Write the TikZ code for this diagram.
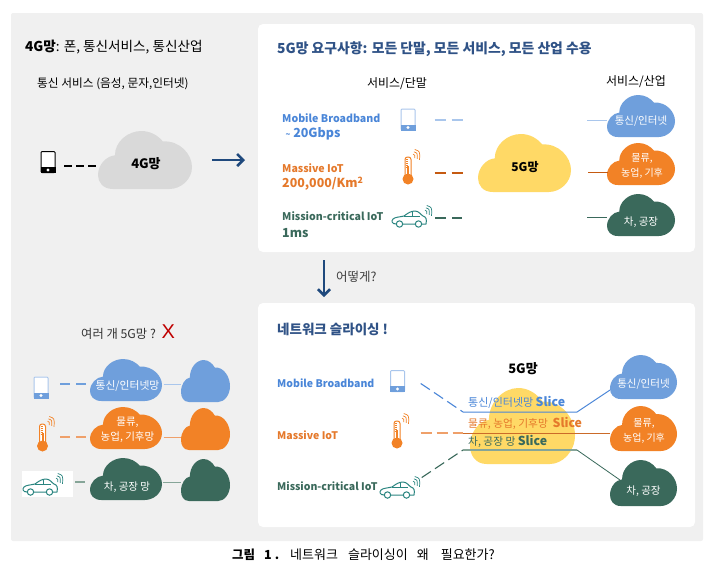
\documentclass[tikz,border=0pt]{standalone}
\usepackage{fontspec}
\setmainfont{Noto Sans CJK KR}
\newfontfamily\xfont{Liberation Sans}
\usepackage{xcolor}
\usetikzlibrary{arrows.meta}
\definecolor{pageGrey}{HTML}{F0F0F0}
\definecolor{navy}{HTML}{2F5286}
\definecolor{arrowNavy}{HTML}{1F497D}
\definecolor{clBlue}{HTML}{6F9FDC}
\definecolor{lineBlue}{HTML}{A9C6EC}
\definecolor{txtBlue}{HTML}{4A86D8}
\definecolor{clOrange}{HTML}{F28226}
\definecolor{lineOrange}{HTML}{C55A11}
\definecolor{softOrange}{HTML}{EFA06A}
\definecolor{txtOrange}{HTML}{E5792B}
\definecolor{clGreen}{HTML}{3A695B}
\definecolor{softGreen}{HTML}{86A598}
\definecolor{clYellow}{HTML}{FFD966}
\definecolor{clGrey}{HTML}{D9D9D9}
\definecolor{carTeal}{HTML}{2A8580}
\newcommand{\fsize}[1]{\fontsize{#1}{#1}\selectfont}
\tikzset{
  cloudpic/.pic={
    \fill[pic actions] (0.16,1) .. controls (0.05,1) and (0,0.88) .. (0,0.76)
      .. controls (0,0.58) and (0.09,0.43) .. (0.18,0.42)
      .. controls (0.18,0.18) and (0.32,0) .. (0.46,0)
      .. controls (0.56,0) and (0.64,0.08) .. (0.69,0.18)
      .. controls (0.87,0.16) and (1,0.4) .. (1,0.62)
      .. controls (1,0.84) and (0.88,1) .. (0.76,1) -- cycle;
  },
  pics/phonepic/.style n args={2}{code={
    \fill[white,rounded corners=1pt] (-7,-11) rectangle (7,11);
    \draw[#1,line width=1pt,rounded corners=1pt] (-7,-10.5) rectangle (7,10.5);
    \fill[#2] (-7.5,5) rectangle (7.5,11);
    \fill[white] (0,8) circle (1.6);
  }},
  pics/thermopic/.style={code={
    \draw[#1,line width=1pt,fill=white,rounded corners=2.5pt] (-4,8) -- (-4,-11) -- (2,-11) -- (2,8);
    \fill[#1] (-1,11) circle (5.5);
    \fill[#1] (-2,8) rectangle (0,-2);
    \foreach \t in {-9,-7,-5,-3,-1} \draw[#1,line width=.6pt] (-3,\t) -- (-1,\t);
    \foreach \r in {3,5.5,8} \draw[#1,line width=.7pt] (3+0.35*\r,-11-0.94*\r) .. controls (3+\r,-11-0.7*\r) .. (3+0.94*\r,-11+0.35*\r);
  }},
  carpic/.pic={
    \draw[carTeal,line width=1pt,line join=round] (-17,8) .. controls (-21,8) and (-22,5) .. (-20,3)
      .. controls (-18,1) and (-13,1) .. (-9,0)
      .. controls (-5,-3) and (-2,-5) .. (2,-5)
      .. controls (6,-5) and (8,-1) .. (10,0)
      .. controls (13,1) and (14,3) .. (13,8) -- (9,8)
      (2,8) -- (-10,8);
    \draw[carTeal,line width=.7pt] (-9,0) -- (7,0) (-1,0) -- (-1,-5);
    \draw[carTeal,line width=1pt] (-13.5,8) circle (3.2) (5.5,8) circle (3.2);
    \foreach \r in {3,5.5,8} \draw[carTeal,line width=.7pt] (11+0.35*\r,-3-0.94*\r) .. controls (11+\r,-3-0.7*\r) .. (11+0.94*\r,-3+0.35*\r);
  },
  plaintxt/.style={inner sep=0pt,anchor=west,font=\fsize{12}},
  cloudtxt/.style={inner sep=0pt,align=center,text=white,font=\fsize{10.5}},
  boxlink/.style={line width=1pt},
  dashlink/.style={line width=1.1pt,dash pattern=on 10pt off 6pt},
  iconbox/.style={inner sep=0pt,minimum width=#1}
}
\begin{document}
\begin{tikzpicture}[x=1pt,y=-1pt]
  \useasboundingbox (0,0) rectangle (719,582);
  \fill[pageGrey,rounded corners=2pt] (11,13) rectangle (703,541);
  \fill[white,rounded corners=5pt] (258,24) rectangle (695,252);
  \fill[white,rounded corners=5pt] (258,303) rectangle (695,527);

  % 4G side
  \node[plaintxt,font=\fsize{13.6}] (title4g) at (25,47) {\textbf{4G망}: 폰, 통신서비스, 통신산업};
  \node[plaintxt,font=\fsize{11.7}] (sub4g) at (37,84) {통신 서비스 (음성, 문자,인터넷)};
  \pic at (48,162) {phonepic={black}{black}};
  \node[iconbox=16pt] (phone4g) at (48,166) {};
  \pic[fill=clGrey,xscale=94,yscale=58] at (98,131) {cloudpic};
  \node[cloudtxt,text=black,font=\fsize{13}\bfseries,minimum width=94pt] (net4g) at (146,164) {4G망};
  \draw[line width=1.1pt,dash pattern=on 7.5pt off 4.5pt] (phone4g.east) ++(8,0) -- ++(32,0);
  \coordinate (arrowFrom) at (212,160);
  \coordinate (arrowTo) at (245,160);
  \draw[-{Straight Barb[length=6pt,width=12pt]},arrowNavy,line width=2.6pt] (arrowFrom) -- (arrowTo);

  % 5G requirement panel
  \node[plaintxt,text=navy,font=\fsize{13.85}\bfseries] (title5g) at (277,49) {5G망 요구사항: 모든 단말, 모든 서비스, 모든 산업 수용};
  \node[inner sep=0pt,font=\fsize{12}] (headTerm) at (397,84) {서비스/단말};
  \node[inner sep=0pt,font=\fsize{12}] (headServ) at (636,82) {서비스/산업};

  \node[plaintxt,text=txtBlue,font=\fsize{10.6}\bfseries] (mbbA) at (282,118) {Mobile Broadband};
  \node[plaintxt,text=txtBlue,font=\fsize{12.5}\bfseries] (mbbB) at (284,134) {{\fsize{8}\,\char`\~} 20Gbps};
  \pic at (408,119.5) {phonepic={lineBlue}{clBlue}};
  \node[iconbox=27pt] (phoneA) at (408,120) {};
  \node[plaintxt,text=txtOrange,font=\fsize{10.6}\bfseries] (miotA) at (282,168) {Massive IoT};
  \node[plaintxt,text=txtOrange,font=\fsize{12.4}\bfseries] (miotB) at (282,184) {200,000/Km$^{\mathbf{2}}$};
  \pic at (409,168) {thermopic=clOrange};
  \node[iconbox=27pt] (thermoA) at (408,173) {};
  \node[plaintxt,text=clGreen,font=\fsize{10.6}\bfseries] (mcA) at (282,216) {Mission-critical IoT};
  \node[plaintxt,text=clGreen,font=\fsize{12.5}\bfseries] (mcB) at (282,233) {1ms};
  \pic at (413,216) {carpic};
  \node[iconbox=27pt] (carA) at (421.5,218) {};

  \pic[fill=clYellow,xscale=93,yscale=58] at (478,134) {cloudpic};
  \node[cloudtxt,text=black,font=\fsize{12}\bfseries] (net5g) at (525,167) {5G망};

  \pic[fill=clBlue,xscale=68,yscale=42] at (607,95) {cloudpic};
  \node[cloudtxt,minimum width=68pt] (servA) at (641,121) {통신/인터넷};
  \pic[fill=clOrange,xscale=68,yscale=42] at (607,143) {cloudpic};
  \node[cloudtxt,minimum width=68pt,font=\fsize{10}] (servB) at (642,166) {물류,\\[3pt]농업, 기후};
  \pic[fill=clGreen,xscale=68,yscale=42] at (607,194) {cloudpic};
  \node[cloudtxt,minimum width=68pt] (servC) at (641,222) {차, 공장};

  \draw[lineBlue,dashlink,dash pattern=on 11pt off 6pt] (phoneA.east) ++(13,0) -- ++(28,0);
  \draw[lineOrange,dashlink,dash pattern=on 11pt off 6pt] (thermoA.east) ++(13,0) -- ++(28,0);
  \draw[clGreen,dashlink,dash pattern=on 11pt off 6pt] (carA.east) -- ++(27,0);
  \draw[lineBlue,boxlink] (servA.west) ++(0,-1) -- ++(-20,0);
  \draw[lineOrange,boxlink] (servB.west) ++(0,6) -- ++(-20,0);
  \draw[clGreen,boxlink] (servC.west) ++(0,-5) -- ++(-20,0);

  % how
  \coordinate (howFrom) at (324,260);
  \coordinate (howTo) at (324,297);
  \draw[-{Straight Barb[length=6pt,width=12pt]},arrowNavy,line width=2.6pt] (howFrom) -- (howTo);
  \node[plaintxt,text=black!75,font=\fsize{12.5}] (how) at (336,277) {어떻게?};

  % many 5G networks
  \node[plaintxt,font=\fsize{12.3},text=black!80] (many) at (81,334) {여러 개 5G망 ?};
  \node[plaintxt,text=red!75!black,font=\xfont\fsize{20}] (manyX) at (161.5,332) {X};

  \pic at (41,387.5) {phonepic={lineBlue}{clBlue}};
  \node[iconbox=16pt] (phoneL) at (41,384) {};
  \pic[fill=clBlue,xscale=72,yscale=42] at (90,359) {cloudpic};
  \node[cloudtxt,minimum width=72pt,font=\fsize{10.8}] (leftA) at (127.5,386) {통신/인터넷망};
  \pic[fill=clBlue,xscale=49,yscale=42] at (181,360) {cloudpic};
  \node[iconbox=49pt,minimum height=42pt] (farA) at (205.5,381) {};

  \pic at (43.5,435) {thermopic=clOrange};
  \node[iconbox=16pt] (thermoL) at (43,437) {};
  \pic[fill=clOrange,xscale=72,yscale=42] at (90,407) {cloudpic};
  \node[cloudtxt,minimum width=72pt] (leftB) at (127.5,430) {물류,\\[3pt]농업, 기후망};
  \pic[fill=clOrange,xscale=49,yscale=42] at (181,408) {cloudpic};
  \node[iconbox=49pt,minimum height=42pt] (farB) at (205.5,429) {};

  \fill[white] (22,471) rectangle (73,497);
  \pic at (44,484) {carpic};
  \node[iconbox=51pt] (carL) at (47.5,482) {};
  \pic[fill=clGreen,xscale=72,yscale=42] at (90,458) {cloudpic};
  \node[cloudtxt,minimum width=72pt] (leftC) at (127,487) {차, 공장 망};
  \pic[fill=clGreen,xscale=49,yscale=42] at (181,459) {cloudpic};
  \node[iconbox=49pt,minimum height=42pt] (farC) at (205.5,480) {};

  \draw[clBlue,dashlink] (phoneL.east) ++(11,0) -- ++(28,0);
  \draw[softOrange,dashlink] (thermoL.east) ++(9,0) -- ++(28,0);
  \draw[softGreen,dashlink] (carL.east) ++(2,0) -- ++(11,0);
  \draw[lineBlue,boxlink] (leftA.east) ++(0,-2) -- (farA.west |- 0,384);
  \draw[softOrange,boxlink] (leftB.east) ++(0,7) -- (farB.west |- 0,437);
  \draw[softGreen,boxlink] (leftC.east) ++(0,-5) -- (farC.west |- 0,482);

  % slicing panel
  \node[plaintxt,text=navy,font=\fsize{13.5}\bfseries] (titleSl) at (277,329) {네트워크 슬라이싱 !};
  \node[inner sep=0pt,font=\fsize{13}\bfseries] (head5g) at (523,369) {5G망};
  \pic[fill=clYellow,xscale=105,yscale=76] at (470,388) {cloudpic};

  \node[plaintxt,text=txtBlue,font=\fsize{10.5}\bfseries] (mbbS) at (277,383) {Mobile Broadband};
  \node[plaintxt,text=txtOrange,font=\fsize{10.5}\bfseries] (miotS) at (277,435) {Massive IoT};
  \node[plaintxt,text=clGreen,font=\fsize{10.5}\bfseries] (mcS) at (277,486) {Mission-critical IoT};
  \pic at (397.5,381) {phonepic={lineBlue}{clBlue}};
  \pic at (398,432) {thermopic=clOrange};
  \pic at (401,487) {carpic};
  \node[iconbox=1pt] (phoneS) at (420,383) {};
  \node[iconbox=1pt] (thermoS) at (420,433) {};
  \node[iconbox=1pt] (carS) at (421,478) {};

  \pic[fill=clBlue,xscale=67,yscale=44] at (610,355) {cloudpic};
  \node[cloudtxt,minimum width=67pt] (servSA) at (643.5,384) {통신/인터넷};
  \pic[fill=clOrange,xscale=67,yscale=45] at (610,406) {cloudpic};
  \node[cloudtxt,minimum width=67pt,font=\fsize{10}] (servSB) at (644,431) {물류,\\[3pt]농업, 기후};
  \pic[fill=clGreen,xscale=67,yscale=46] at (610,460) {cloudpic};
  \node[cloudtxt,minimum width=67pt] (servSC) at (643.5,491) {차, 공장};

  \coordinate (sliceA) at (463,412);
  \coordinate (sliceAr) at (577,412);
  \coordinate (sliceB) at (463,433);
  \coordinate (sliceC) at (463,450);
  \coordinate (sliceCr) at (577,450);
  \coordinate (endA) at (610,390);
  \coordinate (endB) at (610,433);
  \coordinate (endC) at (620,480);

  \draw[txtBlue,line width=1.1pt,dash pattern=on 11pt off 5pt] (phoneS) -- (sliceA);
  \draw[txtBlue,line width=1pt] (sliceA) -- (sliceAr) -- (endA);
  \draw[softOrange,line width=1.4pt,dash pattern=on 11pt off 5pt] (thermoS) -- (sliceB);
  \draw[lineOrange!90,line width=1pt] (sliceB) -- (endB);
  \draw[clGreen,line width=1.1pt,dash pattern=on 11pt off 5pt] (carS) -- (sliceC);
  \draw[softGreen,line width=1.5pt] (sliceC) -- (sliceCr);
  \draw[clGreen,line width=.8pt] (sliceCr) -- (endC);

  \node[plaintxt,text=txtBlue,font=\fsize{11}] (txtSA) at (468,402) {통신/인터넷망 {\fsize{12.3}\bfseries Slice}};
  \node[plaintxt,text=txtOrange,font=\fsize{10.7}] (txtSB) at (468,423) {물류, 농업, 기후망 \ {\fsize{12.3}\bfseries Slice}};
  \node[plaintxt,text=clGreen,font=\fsize{10.7}] (txtSC) at (468,441) {차, 공장 망 {\fsize{12.3}\bfseries Slice}};

  % caption
  \node[plaintxt,font=\fsize{12.5}\bfseries] (capA) at (232,555) {그림\hspace{9pt}1\hspace{3pt}.};
  \node[plaintxt,font=\fsize{13}] (capB) at (290,555) {네트워크\hspace{10pt}슬라이싱이\hspace{9pt}왜\hspace{12pt}필요한가?};
\end{tikzpicture}
\end{document}
